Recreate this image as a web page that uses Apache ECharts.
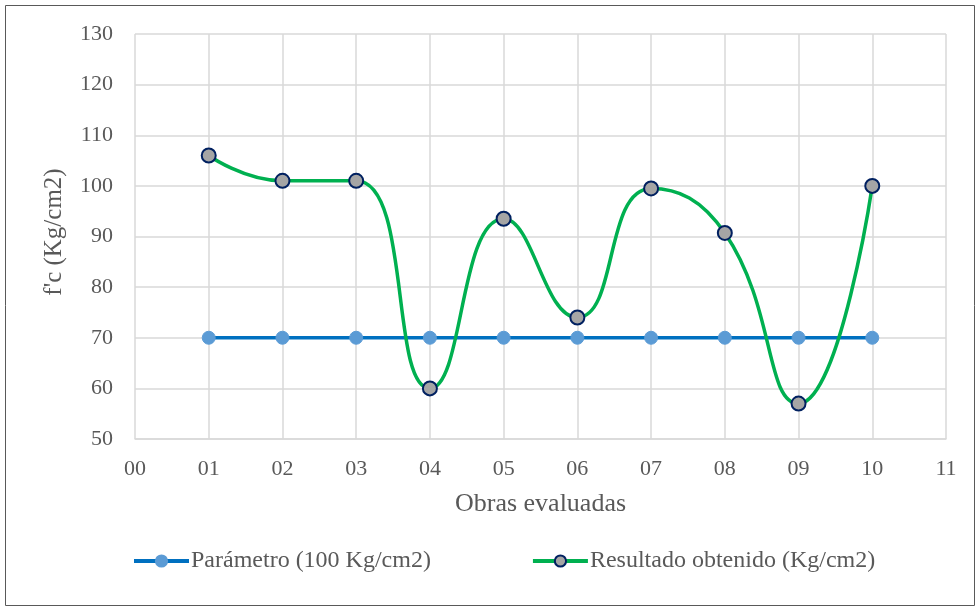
<!DOCTYPE html>
<html>
<head>
<meta charset="utf-8">
<script src="https://cdn.jsdelivr.net/npm/echarts@6/dist/echarts.min.js"></script>
<style>html,body{margin:0;padding:0;background:#fff}#c{width:976px;height:608px}</style>
</head>
<body>
<div id="c"></div>
<script>
var categories = ['01','02','03','04','05','06','07','08','09','10'];
var xTickLabels = ['00','01','02','03','04','05','06','07','08','09','10','11'];
var parametro = [70,70,70,70,70,70,70,70,70,70];
var resultado = [106,101,101,60,93.5,74,99.5,90.7,57,100];
var seriesNames = ['Parámetro (100 Kg/cm2)','Resultado obtenido (Kg/cm2)'];

function pairs(vals){ return categories.map(function(c,i){ return [parseInt(c,10), vals[i]]; }); }
var font = 'Liberation Serif';
var chart = echarts.init(document.getElementById('c'));
chart.setOption({
  animation:false,
  graphic:[{type:'rect',shape:{x:5.5,y:5.5,width:969,height:600},style:{fill:'none',stroke:'#595959',lineWidth:1},silent:true}],
  grid:{left:135,right:30,top:34,bottom:169},
  xAxis:{type:'value',min:0,max:11,interval:1,
    name:'Obras evaluadas',nameLocation:'middle',nameGap:52,
    nameTextStyle:{fontFamily:font,fontSize:26,color:'#595959'},
    axisLine:{show:true,lineStyle:{color:'#D9D9D9',width:1.5}},axisTick:{show:false},
    axisLabel:{margin:19,fontFamily:font,fontSize:22,color:'#595959',formatter:function(v){return xTickLabels[v];}},
    splitLine:{show:true,lineStyle:{color:'#D9D9D9',width:1.5}}},
  yAxis:{type:'value',min:50,max:130,interval:10,
    name:"f'c (Kg/cm2)",nameLocation:'middle',nameGap:68,
    nameTextStyle:{fontFamily:font,fontSize:25,color:'#595959',padding:[0,0,0,9]},
    axisLine:{show:false},axisTick:{show:false},
    axisLabel:{margin:22,fontFamily:font,fontSize:22,color:'#595959'},
    splitLine:{show:true,lineStyle:{color:'#D9D9D9',width:1.5}}},
  legend:{bottom:30,left:127,itemWidth:55,itemHeight:14,itemGap:100,
    textStyle:{fontFamily:font,fontSize:24,color:'#595959',padding:[0,0,0,-3]},
    lineStyle:{width:4},
    data:seriesNames},
  series:[
    {name:seriesNames[0],type:'line',data:pairs(parametro),symbol:'circle',symbolSize:13,
     lineStyle:{color:'#0070C0',width:3.5},itemStyle:{color:'#5B9BD5',borderColor:'#5B9BD5',borderWidth:1}},
    {name:seriesNames[1],type:'line',data:pairs(resultado),smooth:0.5,symbol:'circle',symbolSize:14,
     lineStyle:{color:'#00B050',width:3.5},itemStyle:{color:'#A5A5A5',borderColor:'#002060',borderWidth:2}}
  ]
});
</script>
</body>
</html>
